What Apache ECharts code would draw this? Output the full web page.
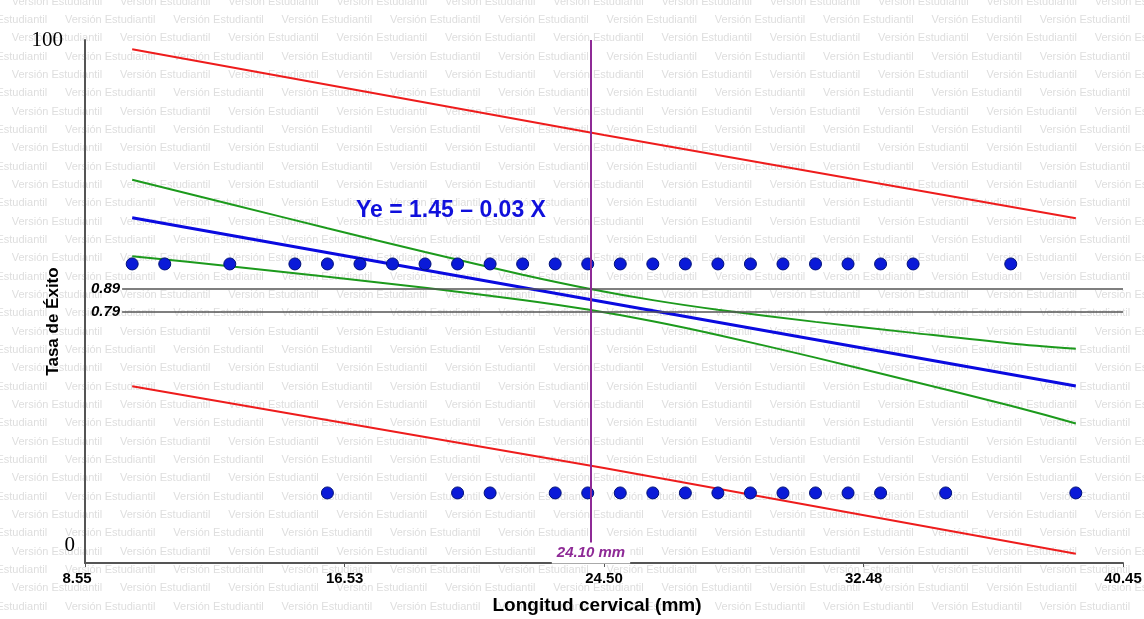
<!DOCTYPE html>
<html>
<head>
<meta charset="utf-8">
<title>Tasa de Éxito - Longitud cervical</title>
<script src="https://cdn.jsdelivr.net/npm/echarts@6/dist/echarts.min.js"></script>
<style>
  html, body { margin: 0; padding: 0; background: #fff; }
  #chart { width: 1144px; height: 619px; }
</style>
</head>
<body>
<div id="chart"></div>
<script>
/******
  Tasa de exito vs longitud cervical
******/

// ticks de los ejes
var xTicks = [8.55, 16.53, 24.50, 32.48, 40.45];
var yTickLabels = ['0', '100'];
var yMin = -0.306, yMax = 1.978;

// casos observados (1 = exito, 0 = fracaso)
var exitoX = [10, 11, 13, 15, 16, 17, 18, 19, 20, 21, 22, 23, 24, 25, 26, 27, 28, 29, 30, 31, 32, 33, 34, 37];
var fracasoX = [16, 20, 21, 23, 24, 25, 26, 27, 28, 29, 30, 31, 32, 33, 35, 39];

// recta de regresion
var regX = [10, 24.5, 39];
var regY = [1.202, 0.834, 0.467];

// banda de confianza (verde)
var bandX = [10, 13, 16, 19, 22, 24, 26, 28, 31, 34, 37, 39];
var bandUp = [1.368, 1.262, 1.156, 1.052, 0.953, 0.893, 0.842, 0.800, 0.747, 0.699, 0.653, 0.630];
var bandLow = [1.034, 0.990, 0.944, 0.896, 0.843, 0.801, 0.750, 0.690, 0.591, 0.487, 0.381, 0.303];

// banda de prediccion (roja)
var predX = [10, 24.5, 39];
var predUp = [1.938, 1.563, 1.200];
var predLow = [0.466, 0.109, -0.266];

// niveles de referencia y punto de corte
var refLevels = [0.89, 0.79];
var corteX = 24.10;

var pares = function (xs, ys) {
  var res = [];
  for (var i = 0; i < xs.length; i++) {
    res.push([xs[i], typeof ys === 'number' ? ys : ys[i]]);
  }
  return res;
};

var fuente = '"Liberation Sans", Arial, sans-serif';

// marca de agua de fondo
var marcas = [];
for (var r = -1; r < 33; r++) {
  var x0 = (r % 2 === 0) ? -43.3 : 11.7;
  for (var c = 0; c < 12; c++) {
    marcas.push({
      type: 'text',
      x: x0 + c * 108.3,
      y: 20 + r * 18.33,
      z: -10,
      silent: true,
      style: {
        text: 'Versión Estudiantil',
        fill: '#dedede',
        fontSize: 11,
        fontFamily: fuente,
        verticalAlign: 'middle'
      }
    });
  }
}
marcas.push({
  type: 'text',
  x: 356,
  y: 211,
  z: 10,
  style: {
    text: 'Ye = 1.45 – 0.03 X',
    fill: '#1010dc',
    fontSize: 23,
    fontWeight: 'bold',
    fontFamily: fuente,
    verticalAlign: 'middle'
  }
});

var myChart = echarts.init(document.getElementById('chart'));

var option = {
  backgroundColor: '#fff',
  animation: false,
  graphic: marcas,
  grid: { left: 85, right: 21, top: 40, bottom: 56, outerBoundsMode: 'none' },
  xAxis: {
    type: 'value',
    min: 8.55,
    max: 40.45,
    name: 'Longitud cervical (mm)',
    nameLocation: 'middle',
    nameGap: 33,
    nameMoveOverlap: false,
    nameTextStyle: { fontSize: 19, fontWeight: 'bold', color: '#000', fontFamily: fuente, padding: [0, 14, 0, 0] },
    axisLine: { onZero: false, lineStyle: { color: '#555', width: 2 } },
    axisTick: { customValues: xTicks, length: 4, lineStyle: { color: '#555' } },
    axisLabel: {
      customValues: xTicks,
      margin: 8,
      color: '#000',
      fontSize: 15,
      fontWeight: 'bold',
      fontFamily: fuente,
      formatter: function (v) {
        // la primera etiqueta va algo a la izquierda
        return Math.abs(v - xTicks[0]) < 1e-6 ? '{first|' + v.toFixed(2) + '}' : v.toFixed(2);
      },
      rich: {
        first: { fontSize: 15, fontWeight: 'bold', fontFamily: fuente, color: '#000', padding: [0, 16, 0, 0] }
      }
    },
    splitLine: { show: false }
  },
  yAxis: {
    type: 'value',
    min: yMin,
    max: yMax,
    name: 'Tasa de Éxito',
    nameLocation: 'middle',
    nameGap: 23,
    nameMoveOverlap: false,
    nameTextStyle: { fontSize: 17, fontWeight: 'bold', color: '#000', fontFamily: fuente, padding: [0, 40, 0, 0] },
    axisLine: { show: true, onZero: false, lineStyle: { color: '#555', width: 2 } },
    axisTick: { show: false },
    axisLabel: {
      customValues: [yMin, yMax],
      margin: 10,
      formatter: function (v) {
        return v > 1 ? '{hi|' + yTickLabels[1] + '}' : '{lo|' + yTickLabels[0] + '}';
      },
      rich: {
        hi: { fontFamily: '"Liberation Serif", serif', fontSize: 21, color: '#000', padding: [0, 12, 0, 0] },
        lo: { fontFamily: '"Liberation Serif", serif', fontSize: 21, color: '#000', padding: [0, 0, 36, 0] }
      }
    },
    splitLine: { show: false }
  },
  series: [
    {
      name: 'Prediccion sup',
      type: 'line',
      data: pares(predX, predUp),
      symbol: 'none',
      lineStyle: { color: '#ee1c1c', width: 2 }
    },
    {
      name: 'Prediccion inf',
      type: 'line',
      data: pares(predX, predLow),
      symbol: 'none',
      lineStyle: { color: '#ee1c1c', width: 2 }
    },
    {
      name: 'Confianza sup',
      type: 'line',
      data: pares(bandX, bandUp),
      smooth: 0.3,
      symbol: 'none',
      lineStyle: { color: '#1c9a1c', width: 2 }
    },
    {
      name: 'Confianza inf',
      type: 'line',
      data: pares(bandX, bandLow),
      smooth: 0.3,
      symbol: 'none',
      lineStyle: { color: '#1c9a1c', width: 2 }
    },
    {
      name: 'Regresion',
      type: 'line',
      data: pares(regX, regY),
      symbol: 'none',
      lineStyle: { color: '#0a0ae0', width: 3 },
      markLine: {
        symbol: ['none', 'none'],
        silent: true,
        data: [
          [
            {
              coord: [9.69, refLevels[0]],
              lineStyle: { color: '#555', width: 1.5, type: 'solid' },
              label: {
                position: 'start', distance: 2, formatter: refLevels[0].toFixed(2),
                color: '#000', fontSize: 15, fontWeight: 'bold', fontStyle: 'italic', fontFamily: fuente
              }
            },
            { coord: [40.45, refLevels[0]] }
          ],
          [
            {
              coord: [9.69, refLevels[1]],
              lineStyle: { color: '#555', width: 1.5, type: 'solid' },
              label: {
                position: 'start', distance: 2, formatter: refLevels[1].toFixed(2), padding: [12, 0, 0, 0],
                color: '#000', fontSize: 15, fontWeight: 'bold', fontStyle: 'italic', fontFamily: fuente
              }
            },
            { coord: [40.45, refLevels[1]] }
          ],
          [
            {
              coord: [corteX, yMax],
              lineStyle: { color: '#8e2a96', width: 2, type: 'solid' },
              label: {
                position: 'end', distance: 1, formatter: corteX.toFixed(2) + ' mm',
                color: '#8e2a96', fontSize: 15, fontWeight: 'bold', fontStyle: 'italic', fontFamily: fuente,
                backgroundColor: '#fff', padding: [2, 5, 3, 5]
              }
            },
            { coord: [corteX, -0.216] }
          ]
        ]
      }
    },
    {
      name: 'Exito',
      type: 'scatter',
      data: pares(exitoX, 1),
      symbolSize: 12,
      itemStyle: { color: '#0a1ad8', borderColor: '#00107a', borderWidth: 1, opacity: 1 },
      z: 4
    },
    {
      name: 'Fracaso',
      type: 'scatter',
      data: pares(fracasoX, 0),
      symbolSize: 12,
      itemStyle: { color: '#0a1ad8', borderColor: '#00107a', borderWidth: 1, opacity: 1 },
      z: 4
    }
  ]
};

myChart.setOption(option);
</script>
</body>
</html>
